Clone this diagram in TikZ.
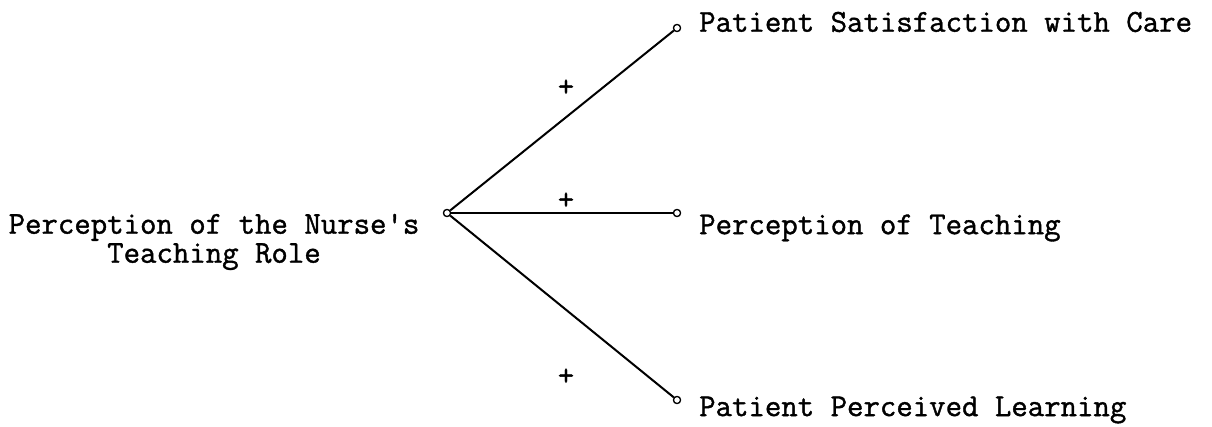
\documentclass[tikz,border=0pt]{standalone}
\usepackage{fontspec}
\setmonofont{Latin Modern Mono}[FakeBold=1.2]
\begin{document}
\begin{tikzpicture}[x=1pt,y=-1pt,
  lbl/.style={font=\ttfamily\fontsize{31.9}{29}\selectfont, inner sep=0pt, anchor=west},
  pt/.style={circle, draw, line width=1.2pt, minimum size=7pt, inner sep=0pt, fill=white},
  link/.style={line width=2pt},
  sign/.style={font=\ttfamily\fontsize{31.9}{29}\selectfont, inner sep=0pt}]
\useasboundingbox (0,0) rectangle (1212,427);
\node[pt] (c) at (447,213) {};
\node[pt] (t) at (677,28) {};
\node[pt] (m) at (677,213) {};
\node[pt] (b) at (677,400) {};
\draw[link] (c) -- (t);
\draw[link] (c) -- (m);
\draw[link] (c) -- (b);
\node[pt] at (447,213) {};
\node[pt] at (677,28) {};
\node[pt] at (677,213) {};
\node[pt] at (677,400) {};
\node[lbl] (tl) at (699,22) {Patient Satisfaction with Care};
\node[lbl] (ml) at (699,228) {Perception of Teaching};
\node[lbl] (bl) at (699,410) {Patient Perceived Learning};
\node[font=\ttfamily\fontsize{31.9}{29}\selectfont, inner sep=0pt, align=center] (src) at (214,242) {Perception of the Nurse's\\Teaching Role};
\node[sign] (s1) at (566,88) {+};
\node[sign] (s2) at (566,201) {+};
\node[sign] (s3) at (566,377) {+};
\end{tikzpicture}
\end{document}
